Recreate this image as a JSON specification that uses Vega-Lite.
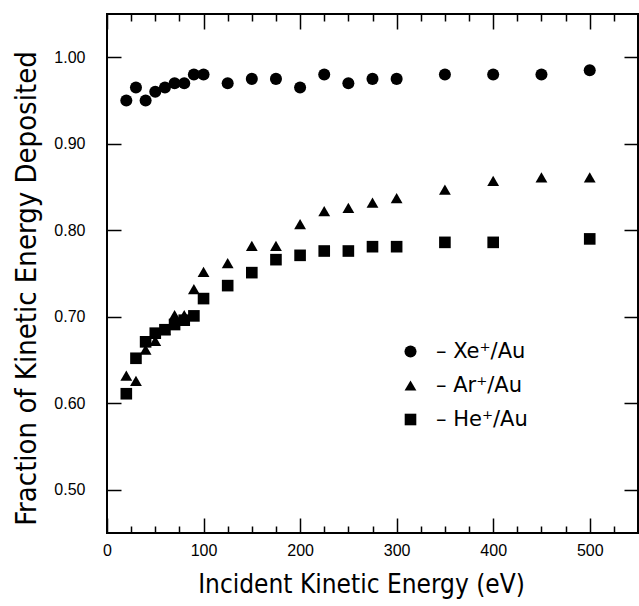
{
  "$schema": "https://vega.github.io/schema/vega-lite/v6.json",
  "autosize": "none",
  "padding": {"left": 107, "top": 14, "right": 1, "bottom": 73},
  "width": 531,
  "height": 519,
  "background": "white",
  "config": {
    "view": {"stroke": "black", "strokeWidth": 2},
    "axis": {"domain": false, "grid": false, "tickColor": "black", "tickWidth": 1.5, "labelColor": "black", "titleColor": "black", "labelFont": "Liberation Sans", "labelFontSize": 16, "titleFont": "DejaVu Sans Condensed", "titleFontWeight": "normal", "titleFontSize": 28}
  },
  "data": {"values": [
    {"E": 20, "f": 0.95, "s": "Xe⁺/Au"},
    {"E": 30, "f": 0.965, "s": "Xe⁺/Au"},
    {"E": 40, "f": 0.95, "s": "Xe⁺/Au"},
    {"E": 50, "f": 0.96, "s": "Xe⁺/Au"},
    {"E": 60, "f": 0.965, "s": "Xe⁺/Au"},
    {"E": 70, "f": 0.97, "s": "Xe⁺/Au"},
    {"E": 80, "f": 0.97, "s": "Xe⁺/Au"},
    {"E": 90, "f": 0.98, "s": "Xe⁺/Au"},
    {"E": 100, "f": 0.98, "s": "Xe⁺/Au"},
    {"E": 125, "f": 0.97, "s": "Xe⁺/Au"},
    {"E": 150, "f": 0.975, "s": "Xe⁺/Au"},
    {"E": 175, "f": 0.975, "s": "Xe⁺/Au"},
    {"E": 200, "f": 0.965, "s": "Xe⁺/Au"},
    {"E": 225, "f": 0.98, "s": "Xe⁺/Au"},
    {"E": 250, "f": 0.97, "s": "Xe⁺/Au"},
    {"E": 275, "f": 0.975, "s": "Xe⁺/Au"},
    {"E": 300, "f": 0.975, "s": "Xe⁺/Au"},
    {"E": 350, "f": 0.98, "s": "Xe⁺/Au"},
    {"E": 400, "f": 0.98, "s": "Xe⁺/Au"},
    {"E": 450, "f": 0.98, "s": "Xe⁺/Au"},
    {"E": 500, "f": 0.985, "s": "Xe⁺/Au"},
    {"E": 20, "f": 0.632, "s": "Ar⁺/Au"},
    {"E": 30, "f": 0.626, "s": "Ar⁺/Au"},
    {"E": 40, "f": 0.662, "s": "Ar⁺/Au"},
    {"E": 50, "f": 0.672, "s": "Ar⁺/Au"},
    {"E": 60, "f": 0.685, "s": "Ar⁺/Au"},
    {"E": 70, "f": 0.702, "s": "Ar⁺/Au"},
    {"E": 80, "f": 0.702, "s": "Ar⁺/Au"},
    {"E": 90, "f": 0.732, "s": "Ar⁺/Au"},
    {"E": 100, "f": 0.752, "s": "Ar⁺/Au"},
    {"E": 125, "f": 0.762, "s": "Ar⁺/Au"},
    {"E": 150, "f": 0.782, "s": "Ar⁺/Au"},
    {"E": 175, "f": 0.782, "s": "Ar⁺/Au"},
    {"E": 200, "f": 0.807, "s": "Ar⁺/Au"},
    {"E": 225, "f": 0.822, "s": "Ar⁺/Au"},
    {"E": 250, "f": 0.826, "s": "Ar⁺/Au"},
    {"E": 275, "f": 0.832, "s": "Ar⁺/Au"},
    {"E": 300, "f": 0.837, "s": "Ar⁺/Au"},
    {"E": 350, "f": 0.847, "s": "Ar⁺/Au"},
    {"E": 400, "f": 0.857, "s": "Ar⁺/Au"},
    {"E": 450, "f": 0.861, "s": "Ar⁺/Au"},
    {"E": 500, "f": 0.861, "s": "Ar⁺/Au"},
    {"E": 20, "f": 0.611, "s": "He⁺/Au"},
    {"E": 30, "f": 0.652, "s": "He⁺/Au"},
    {"E": 40, "f": 0.671, "s": "He⁺/Au"},
    {"E": 50, "f": 0.681, "s": "He⁺/Au"},
    {"E": 60, "f": 0.685, "s": "He⁺/Au"},
    {"E": 70, "f": 0.691, "s": "He⁺/Au"},
    {"E": 80, "f": 0.696, "s": "He⁺/Au"},
    {"E": 90, "f": 0.701, "s": "He⁺/Au"},
    {"E": 100, "f": 0.721, "s": "He⁺/Au"},
    {"E": 125, "f": 0.736, "s": "He⁺/Au"},
    {"E": 150, "f": 0.751, "s": "He⁺/Au"},
    {"E": 175, "f": 0.766, "s": "He⁺/Au"},
    {"E": 200, "f": 0.771, "s": "He⁺/Au"},
    {"E": 225, "f": 0.776, "s": "He⁺/Au"},
    {"E": 250, "f": 0.776, "s": "He⁺/Au"},
    {"E": 275, "f": 0.781, "s": "He⁺/Au"},
    {"E": 300, "f": 0.781, "s": "He⁺/Au"},
    {"E": 350, "f": 0.786, "s": "He⁺/Au"},
    {"E": 400, "f": 0.786, "s": "He⁺/Au"},
    {"E": 500, "f": 0.79, "s": "He⁺/Au"}
  ]},
  "layer": [
    {
      "mark": {"type": "point", "filled": true, "opacity": 1, "color": "black"},
      "encoding": {
        "x": {"field": "E", "type": "quantitative", "scale": {"domain": [0, 550], "nice": false},
          "axis": {"orient": "bottom", "values": [0, 25, 50, 75, 100, 125, 150, 175, 200, 225, 250, 275, 300, 325, 350, 375, 400, 425, 450, 475, 500, 525],
            "tickSize": {"condition": {"test": "datum.value % 100 === 0", "value": -15}, "value": -7},
            "labelExpr": "datum.value % 100 === 0 ? datum.label : ''", "labelFlush": false, "labelPadding": 24,
            "title": "Incident Kinetic Energy (eV)", "titleFontSize": 26, "titlePadding": 13, "titleX": 254}},
        "y": {"field": "f", "type": "quantitative", "scale": {"domain": [0.45, 1.05], "nice": false, "zero": false},
          "axis": {"orient": "left", "values": [0.5, 0.6, 0.7, 0.8, 0.9, 1.0], "format": ".2f", "tickSize": -14, "labelPadding": 36, "labelFlush": false,
            "title": "Fraction of Kinetic Energy Deposited", "titleFontSize": 29, "titlePadding": 12, "titleY": 274}},
        "shape": {"field": "s", "type": "nominal", "scale": {"domain": ["Xe⁺/Au", "Ar⁺/Au", "He⁺/Au"], "range": ["circle", "triangle-up", "square"]},
          "legend": {"orient": "none", "legendX": 293, "legendY": 327, "title": null, "padding": 0, "labelFont": "DejaVu Sans", "labelFontSize": 21, "labelColor": "black", "labelExpr": "'–  ' + datum.label", "rowPadding": 12, "labelOffset": 15}},
        "size": {"field": "s", "type": "nominal", "scale": {"domain": ["Xe⁺/Au", "Ar⁺/Au", "He⁺/Au"], "range": [145, 135, 88]},
          "legend": {"orient": "none", "legendX": 293, "legendY": 327, "title": null, "padding": 0, "labelFont": "DejaVu Sans", "labelFontSize": 21, "labelColor": "black", "labelExpr": "'–  ' + datum.label", "rowPadding": 12, "labelOffset": 15}}
      }
    },
    {
      "mark": {"type": "point", "opacity": 0},
      "encoding": {
        "x": {"field": "E", "type": "quantitative", "scale": {"domain": [0, 550], "nice": false},
          "axis": {"orient": "top", "values": [0, 25, 50, 75, 100, 125, 150, 175, 200, 225, 250, 275, 300, 325, 350, 375, 400, 425, 450, 475, 500, 525],
            "tickSize": {"condition": {"test": "datum.value % 100 === 0", "value": -15}, "value": -7}, "labels": false, "title": null}},
        "y": {"field": "f", "type": "quantitative", "scale": {"domain": [0.45, 1.05], "nice": false, "zero": false},
          "axis": {"orient": "right", "values": [0.5, 0.6, 0.7, 0.8, 0.9, 1.0], "tickSize": -14, "labels": false, "title": null}}
      }
    }
  ]
}
